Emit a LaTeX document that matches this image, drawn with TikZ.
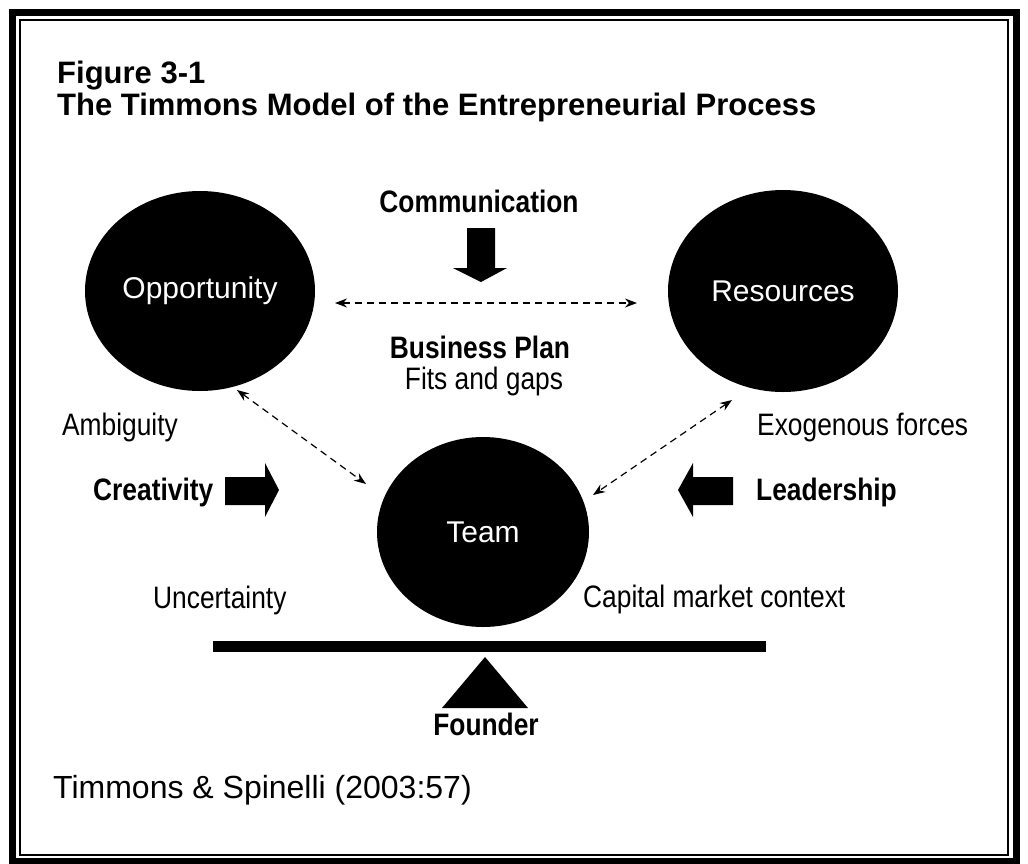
\documentclass[tikz,border=0pt]{standalone}
\usepackage{fontspec}
\setmainfont{Liberation Sans}
\newfontfamily\narrowsf[FakeStretch=0.85]{Liberation Sans}
\usetikzlibrary{arrows.meta,calc,positioning,shapes.geometric}

\begin{document}
\begin{tikzpicture}[x=1pt,y=-1pt,
    party/.style={ellipse,fill=black,text=white,inner sep=0,
      font=\fontsize{30}{36}\selectfont},
    tag/.style={inner sep=0,font=\narrowsf\fontsize{31}{36}\selectfont},
    key/.style={inner sep=0,font=\narrowsf\bfseries\fontsize{31}{36}\selectfont},
    link/.style={{Stealth[length=12pt,width=9pt]}-{Stealth[length=12pt,width=9pt]},
      dash pattern=on 7pt off 5pt,line width=1.2pt}]
    \useasboundingbox (0,0) rectangle (1028,863);
    \draw[line width=7pt] (12,12) rectangle (1016,861);
    \draw[line width=2pt] (20,20) rectangle (1008,855);

    \node[anchor=base west,inner sep=0,font=\bfseries\fontsize{31}{36}\selectfont]
      (fig) at (57,83) {Figure 3-1};
    \node[anchor=base west,inner sep=0,font=\bfseries\fontsize{31}{36}\selectfont]
      (title) at (57,115) {The Timmons Model of the Entrepreneurial Process};

    \node[party,minimum width=230pt,minimum height=200pt] (opp) at (200,291) {Opportunity};
    \node[party,minimum width=230pt,minimum height=202pt] (res) at (783,291) {Resources};
    \node[party,minimum width=212pt,minimum height=190pt] (team) at (483,532) {Team};

    \node[key,anchor=base] (comm) at (479,212) {Communication};
    \node[key,anchor=base] (plan) at (480,358) {Business Plan};
    \node[tag] (fits) [below=8pt of plan,xshift=4pt] {Fits and gaps};
    \node[tag,anchor=base east] (amb) at (178,435) {Ambiguity};
    \node[key,anchor=base west] (crea) at (93,500) {Creativity};
    \node[tag,anchor=base west] (uncert) at (153,608) {Uncertainty};
    \node[tag,anchor=base west] (exo) at (757,435) {Exogenous forces};
    \node[key,anchor=base west] (lead) at (756,500) {Leadership};
    \node[tag,anchor=base west] (cap) at (583,607) {Capital market context};
    \node[key,anchor=base] (found) at (486,735) {Founder};
    \node[anchor=base west,inner sep=0,font=\fontsize{32}{38}\selectfont]
      (src) at (53,798) {Timmons \& Spinelli (2003:57)};

    \fill (467,228) -- (495,228) -- (495,268) -- (507,268) -- (481,282)
      -- (453,268) -- (467,268) -- cycle;
    \fill (225,477) -- (265,477) -- (265,463) -- (279,490) -- (265,517)
      -- (265,505) -- (225,505) -- cycle;
    \fill (733,477) -- (693,477) -- (693,463) -- (678,490) -- (693,517)
      -- (693,505) -- (733,505) -- cycle;

    \draw[line width=11pt] (213,646) -- (766,646);
    \fill (485,657) -- (528,708) -- (442,708) -- cycle;

    \draw[link] ($(opp)+(135,12)$) -- ($(res)+(-146,12)$);
    \draw[link] ($(opp)+(37,99)$) -- ($(team)+(-117,-48)$);
    \draw[link] ($(res)+(-51,109)$) -- ($(team)+(110,-37)$);
\end{tikzpicture}
\end{document}
